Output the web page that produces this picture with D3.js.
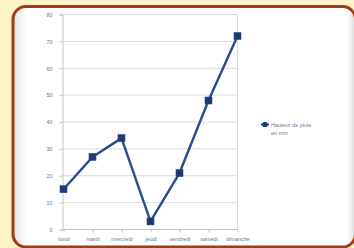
<!DOCTYPE html>
<html><head><meta charset="utf-8">
<script src="https://cdn.jsdelivr.net/npm/d3@7/dist/d3.min.js"></script>
<style>
html,body{margin:0;padding:0;background:#fdf3c6;}
svg{display:block;}
</style></head>
<body>
<script>
const categories = ["lundi","mardi","mercredi","jeudi","vendredi","samedi","dimanche"];
const values = [15, 27, 34, 3, 21, 48, 72];
const yTicks = [0,10,20,30,40,50,60,70,80];
const seriesName = ["Hauteur de pluie", "en mm"];

const W = 354, H = 248;
const svg = d3.select("body").append("svg").attr("width", W).attr("height", H);

const defs = svg.append("defs");
const gr = defs.append("linearGradient").attr("id","lg").attr("x1",0).attr("x2",1).attr("y1",0).attr("y2",0);
gr.append("stop").attr("offset","0").attr("stop-color","#e2e2e2");
gr.append("stop").attr("offset","0.04").attr("stop-color","#ffffff");
gr.append("stop").attr("offset","0.975").attr("stop-color","#ffffff");
gr.append("stop").attr("offset","0.995").attr("stop-color","#e2e2e2");

svg.append("rect").attr("width",W).attr("height",H).attr("fill","#fdf3c6");
// panel
svg.append("rect").attr("x",13).attr("y",6.5).attr("width",342.5).attr("height",240.5)
  .attr("rx",13).attr("fill","url(#lg)").attr("stroke","#a23c17").attr("stroke-width",3);

const x = d3.scalePoint().domain(categories).range([63.5, 237.5]);
const y = d3.scaleLinear().domain([0,80]).range([229.5, 14.5]);

// gridlines
svg.append("g").selectAll("line").data(yTicks.filter(d=>d>0)).join("line")
  .attr("x1",62).attr("x2",237.5).attr("y1",d=>y(d)).attr("y2",d=>y(d))
  .attr("stroke","#dadada").attr("stroke-width",1);
svg.append("line").attr("x1",237.5).attr("x2",237.5).attr("y1",y(80)).attr("y2",y(0))
  .attr("stroke","#dadada");

const font = "Liberation Sans, Arial, sans-serif";
// y axis
const ya = svg.append("g").attr("transform","translate(62.5,0)")
  .call(d3.axisLeft(y).tickValues(yTicks).tickSize(3).tickPadding(7));
ya.select(".domain").attr("stroke","#c4c4c4");
ya.selectAll(".tick line").attr("stroke","#c4c4c4");
ya.selectAll("text").attr("fill","#777").style("font-family",font).style("font-size","5.5px");

// x axis
const xa = svg.append("g").attr("transform",`translate(0,${y(0)})`)
  .call(d3.axisBottom(x).tickSize(3).tickPadding(5));
xa.select(".domain").attr("stroke","#c4c4c4").attr("d","M62.5,0H237.5");
xa.selectAll(".tick line").attr("stroke","#c4c4c4");
xa.selectAll("text").attr("fill","#777").style("font-family",font).style("font-size","5.5px");

// line
const line = d3.line().x((d,i)=>x(categories[i])).y(d=>y(d));
svg.append("path").datum(values).attr("d",line).attr("fill","none")
  .attr("stroke","#2a4c8e").attr("stroke-width",2.4).attr("stroke-linejoin","round");
svg.append("g").selectAll("rect").data(values).join("rect")
  .attr("x",(d,i)=>x(categories[i])-3.5).attr("y",d=>y(d)-3.5)
  .attr("width",7).attr("height",7).attr("fill","#1e3a70").attr("stroke","#2a4c8e").attr("stroke-width",0.6);

// legend
const lg = svg.append("g").attr("transform","translate(265,124.5)");
lg.append("line").attr("x1",-4).attr("x2",4).attr("y1",0).attr("y2",0).attr("stroke","#2a4c8e").attr("stroke-width",2);
lg.append("rect").attr("x",-2.5).attr("y",-2.5).attr("width",5).attr("height",5).attr("rx",1.5).attr("fill","#1e3a70");
lg.append("text").attr("x",6).attr("y",2).selectAll("tspan").data(seriesName).join("tspan")
  .attr("x",6).attr("dy",(d,i)=>i?8:0).text(d=>d)
  .attr("fill","#777").style("font-family",font).style("font-size","5.5px");
</script>
</body></html>
